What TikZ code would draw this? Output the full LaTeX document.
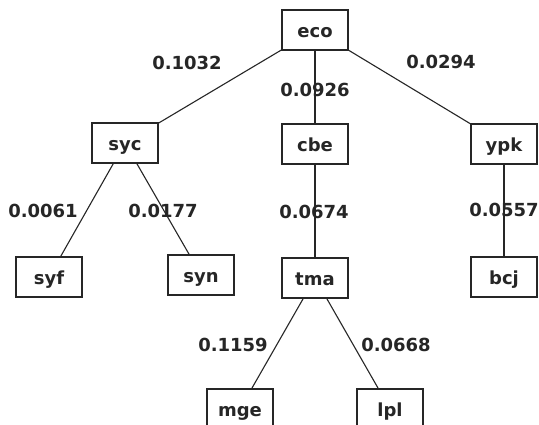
\documentclass[tikz,border=0pt]{standalone}
\usepackage{fontspec}
\setmainfont{DejaVu Sans}
\begin{document}
\begin{tikzpicture}[x=1pt,y=-1pt,
  taxon/.style={draw=black!85, line width=1.4pt, minimum width=66pt, minimum height=40pt,
                inner sep=0pt, text height=16pt, text depth=1pt,
                font=\fontsize{18}{20}\selectfont\bfseries, text=black!85},
  weight/.style={inner sep=0pt, font=\fontsize{18}{20}\selectfont\bfseries, text=black!85},
  branch/.style={draw=black!85, line width=1.1pt}]
  \clip (0,0) rectangle (539,425);
  \fill[white] (0,0) rectangle (539,425);
  % tree nodes
  \node[taxon] (eco) at (315,30) {eco};
  \node[taxon] (syc) at (125,143) {syc};
  \node[taxon] (cbe) at (315,144) {cbe};
  \node[taxon] (ypk) at (504,144) {ypk};
  \node[taxon] (syf) at (49,277) {syf};
  \node[taxon] (syn) at (201,275) {syn};
  \node[taxon] (tma) at (315,278) {tma};
  \node[taxon] (bcj) at (504,277) {bcj};
  \node[taxon] (mge) at (240,409) {mge};
  \node[taxon] (lpl) at (390,409) {lpl};
  % branches
  \draw[branch] (eco) -- (syc);
  \draw[branch] (eco) -- (cbe);
  \draw[branch] (eco) -- (ypk);
  \draw[branch] (syc) -- (syf);
  \draw[branch] (syc) -- (syn);
  \draw[branch] (cbe) -- (tma);
  \draw[branch] (ypk) -- (bcj);
  \draw[branch] (tma) -- (mge);
  \draw[branch] (tma) -- (lpl);
  % branch lengths
  \node[weight] (w1) at (187,63) {0.1032};
  \node[weight] (w2) at (315,90) {0.0926};
  \node[weight] (w3) at (441,62) {0.0294};
  \node[weight] (w4) at (43,211) {0.0061};
  \node[weight] (w5) at (163,211) {0.0177};
  \node[weight] (w6) at (314,212) {0.0674};
  \node[weight] (w7) at (504,210) {0.0557};
  \node[weight] (w8) at (233,345) {0.1159};
  \node[weight] (w9) at (396,345) {0.0668};
\end{tikzpicture}
\end{document}
